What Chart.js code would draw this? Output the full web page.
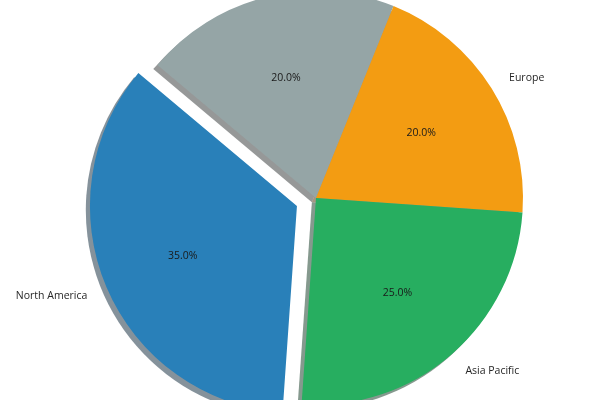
<!DOCTYPE html>
<html>
<head>
<meta charset="utf-8">
<script src="https://cdn.jsdelivr.net/npm/chart.js@4/dist/chart.umd.min.js"></script>
<style>
  html, body { margin: 0; padding: 0; background: #ffffff; overflow: hidden; }
  #wrap { position: absolute; left: 0; top: 0; width: 600px; height: 400px; }
</style>
</head>
<body>
<div id="wrap"><canvas id="c" width="600" height="400"></canvas></div>
<script>
// Data (clockwise order as drawn, starting from the upper-left)
const categories = ['Others', 'Europe', 'Asia Pacific', 'North America'];
const shares = [20, 20, 25, 35];
const sliceColors = ['#95a5a6', '#f39c12', '#27ae60', '#2980b9'];
const explode = [0, 0, 0, 0.1];

const RADIUS = 207;
const FONT = '10.5px "Open Sans", "Noto Sans", sans-serif';

function shadowColor(hex) {
  const r = parseInt(hex.slice(1, 3), 16), g = parseInt(hex.slice(3, 5), 16), b = parseInt(hex.slice(5, 7), 16);
  return 'rgba(' + Math.round(r * 0.3) + ',' + Math.round(g * 0.3) + ',' + Math.round(b * 0.3) + ',0.5)';
}

const explodePlugin = {
  id: 'explode',
  afterDatasetsUpdate(chart) {
    const meta = chart.getDatasetMeta(0);
    meta.data.forEach((el, i) => {
      const f = explode[i] || 0;
      if (!f) return;
      const mid = (el.startAngle + el.endAngle) / 2;
      const d = f * el.outerRadius;
      el.x += Math.cos(mid) * d;
      el.y += Math.sin(mid) * d;
    });
  }
};

const shadowPlugin = {
  id: 'pieShadow',
  beforeDatasetsDraw(chart) {
    const ctx = chart.ctx;
    const meta = chart.getDatasetMeta(0);
    meta.data.forEach((el, i) => {
      const off = 0.02 * el.outerRadius;
      ctx.save();
      ctx.fillStyle = shadowColor(sliceColors[i]);
      ctx.beginPath();
      ctx.moveTo(el.x - off, el.y + off);
      ctx.arc(el.x - off, el.y + off, el.outerRadius, el.startAngle, el.endAngle);
      ctx.closePath();
      ctx.fill();
      ctx.restore();
    });
  }
};

const labelPlugin = {
  id: 'pieLabels',
  afterDatasetsDraw(chart) {
    const ctx = chart.ctx;
    const meta = chart.getDatasetMeta(0);
    const total = shares.reduce((a, b) => a + b, 0);
    ctx.save();
    ctx.font = FONT;
    ctx.textBaseline = 'middle';
    meta.data.forEach((el, i) => {
      const mid = (el.startAngle + el.endAngle) / 2;
      const r = el.outerRadius;
      const c = Math.cos(mid), s = Math.sin(mid);
      // category label
      ctx.fillStyle = '#262626';
      ctx.textAlign = c > 0 ? 'left' : 'right';
      ctx.fillText(categories[i], el.x + c * r * 1.1, el.y + s * r * 1.1 + 1);
      // percentage
      ctx.fillStyle = '#1a1a1a';
      ctx.textAlign = 'center';
      ctx.fillText((shares[i] / total * 100).toFixed(1) + '%', el.x + c * r * 0.6, el.y + s * r * 0.6 + 1);
    });
    ctx.restore();
  }
};

new Chart(document.getElementById('c'), {
  type: 'pie',
  data: {
    labels: categories,
    datasets: [{
      data: shares,
      backgroundColor: sliceColors,
      borderWidth: 0
    }]
  },
  options: {
    responsive: false,
    animation: false,
    rotation: -50,
    radius: RADIUS,
    layout: { padding: { left: 32, right: 0, top: 0, bottom: 4 } },
    plugins: {
      legend: { display: false },
      tooltip: { enabled: false }
    }
  },
  plugins: [explodePlugin, shadowPlugin, labelPlugin]
});
</script>
</body>
</html>
